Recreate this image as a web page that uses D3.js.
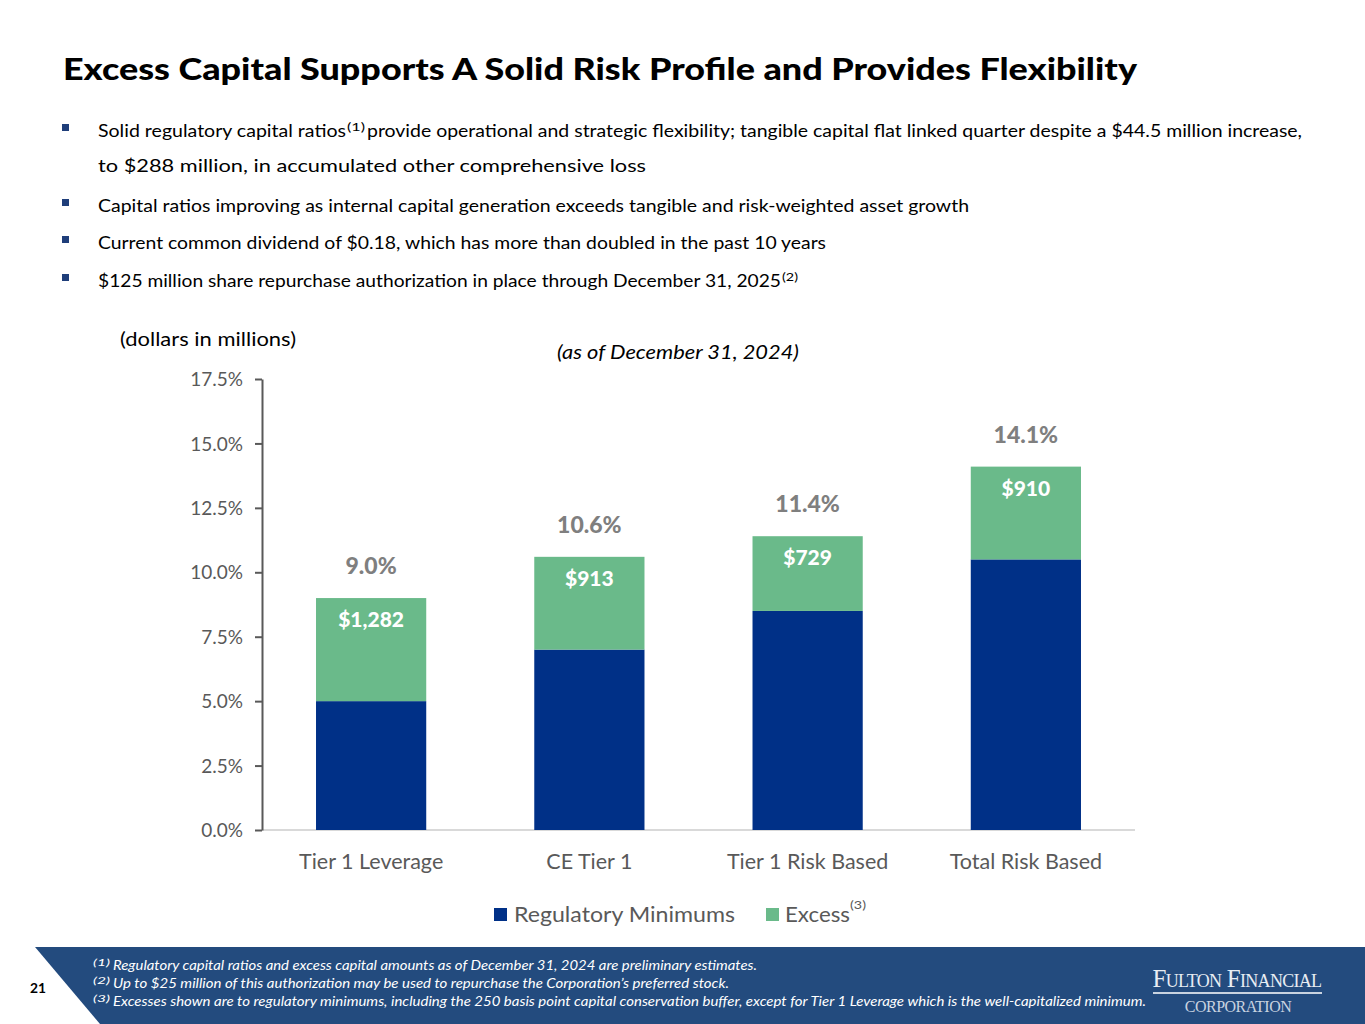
<!DOCTYPE html>
<html><head><meta charset="utf-8">
<script src="https://cdn.jsdelivr.net/npm/d3@7"></script>
<style>html,body{margin:0;padding:0;background:#fff;}svg{display:block;}</style>
</head><body>
<script>
const categories = ["Tier 1 Leverage", "CE Tier 1", "Tier 1 Risk Based", "Total Risk Based"];
const regulatoryMinimums = [5.0, 7.0, 8.5, 10.5];
const totalRatios = [9.0, 10.6, 11.4, 14.1];
const excessDollars = ["$1,282", "$913", "$729", "$910"];
const yTicks = [0, 2.5, 5, 7.5, 10, 12.5, 15, 17.5];
const seriesNames = ["Regulatory Minimums", "Excess"];

const W = 1365, H = 1024;
const NAVY = "#003087", GREEN = "#6aba8a", GRAY = "#595959", LGRAY = "#7f7f7f";
const FONT = "Lato, 'Open Sans', sans-serif";

const svg = d3.select("body").append("svg").attr("width", W).attr("height", H)
  .style("font-family", FONT);

// Title
svg.append("text").attr("x", 63).attr("y", 80).attr("font-size", 31).attr("font-weight", 900)
  .attr("fill", "#000").attr("textLength", 1074).attr("lengthAdjust", "spacingAndGlyphs")
  .text("Excess Capital Supports A Solid Risk Profile and Provides Flexibility");

function txt(x, y, s, len, opts = {}) {
  const t = svg.append("text").attr("x", x).attr("y", y).attr("font-size", opts.size || 17.5)
    .attr("fill", opts.fill || "#000").text(s);
  if (len) t.attr("textLength", len).attr("lengthAdjust", "spacingAndGlyphs");
  if (opts.italic) t.attr("font-style", "italic");
  if (opts.weight) t.attr("font-weight", opts.weight);
  if (opts.anchor) t.attr("text-anchor", opts.anchor);
  return t;
}
// Bullets
const bulletYs = [131, 206, 243, 281];
bulletYs.forEach(y => svg.append("rect").attr("x", 62).attr("y", y - 7).attr("width", 7).attr("height", 7).attr("fill", "#1f3e7a"));
txt(98, 137, "Solid regulatory capital ratios", 248);
txt(347, 131, "(1)", 18, {size: 11});
txt(367, 137, "provide operational and strategic flexibility; tangible capital flat linked quarter despite a $44.5  million increase,", 935);
txt(98, 172, "to $288  million, in accumulated other comprehensive loss", 548);
txt(98, 212, "Capital ratios improving as internal capital generation exceeds tangible and risk-weighted asset growth", 871);
txt(98, 249, "Current common dividend of $0.18,  which has more than doubled in the past 10 years", 728);
txt(98, 287, "$125  million share repurchase authorization in place through December 31, 2025", 683);
txt(782, 281, "(2)", 16, {size: 11});

txt(120, 346, "(dollars in millions)", 176, {size: 18.5});
txt(557, 359, "(as of December 31, 2024)", 242, {size: 18.5, italic: true});

// Chart
const x = d3.scaleBand().domain(categories).range([262, 1135]).paddingInner(0.495).paddingOuter(0.2475);
const y = d3.scaleLinear().domain([0, 17.5]).range([830, 379]);

const data = categories.map((c, i) => ({c, min: regulatoryMinimums[i], total: totalRatios[i], ex: excessDollars[i]}));

svg.append("line").attr("x1", 262).attr("x2", 1135).attr("y1", y(0)).attr("y2", y(0))
  .attr("stroke", "#d9d9d9").attr("stroke-width", 2);

const g = svg.append("g");
g.selectAll(".min").data(data).join("rect")
  .attr("x", d => x(d.c)).attr("width", x.bandwidth())
  .attr("y", d => y(d.min)).attr("height", d => y(0) - y(d.min)).attr("fill", NAVY);
g.selectAll(".ex").data(data).join("rect")
  .attr("x", d => x(d.c)).attr("width", x.bandwidth())
  .attr("y", d => y(d.total)).attr("height", d => y(d.min) - y(d.total)).attr("fill", GREEN);

const yAxis = d3.axisLeft(y).tickValues(yTicks).tickFormat(d => d3.format(".1f")(d) + "%").tickSize(7).tickSizeOuter(0);
const ya = svg.append("g").attr("transform", "translate(262,0)").call(yAxis);
ya.select(".domain").attr("stroke", GRAY).attr("stroke-width", 2);
ya.selectAll(".tick line").attr("stroke", GRAY).attr("stroke-width", 2);
ya.selectAll(".tick text").attr("fill", GRAY).attr("font-size", 19).attr("font-family", FONT).attr("x", -19).attr("dy", "0.35em");

const xAxis = d3.axisBottom(x).tickSize(0);
const xa = svg.append("g").attr("transform", `translate(0,${y(0)})`).call(xAxis);
xa.select(".domain").remove();
xa.selectAll(".tick text").attr("fill", GRAY).attr("font-size", 21.5).attr("font-family", FONT).attr("dy", "0").attr("y", 39);

g.selectAll(".tot").data(data).join("text")
  .attr("x", d => x(d.c) + x.bandwidth() / 2).attr("y", d => y(d.total) - 24)
  .attr("text-anchor", "middle").attr("font-size", 23).attr("font-weight", 900).attr("fill", LGRAY)
  .text(d => d3.format(".1f")(d.total) + "%");
g.selectAll(".exl").data(data).join("text")
  .attr("x", d => x(d.c) + x.bandwidth() / 2).attr("y", d => y(d.total) + 29)
  .attr("text-anchor", "middle").attr("font-size", 21).attr("font-weight", 900).attr("fill", "#fff")
  .text(d => d.ex);

// legend
svg.append("rect").attr("x", 494).attr("y", 908).attr("width", 13).attr("height", 13).attr("fill", NAVY);
txt(514, 922, seriesNames[0], 221, {size: 21.5, fill: GRAY});
svg.append("rect").attr("x", 766).attr("y", 908).attr("width", 13).attr("height", 13).attr("fill", GREEN);
txt(785, 922, seriesNames[1], 65, {size: 21.5, fill: GRAY});
txt(850, 909, "(3)", 16, {size: 12, fill: GRAY});

// footer
svg.append("polygon").attr("points", "35,947 1365,947 1365,1024 100,1024").attr("fill", "#234b7e");
txt(30, 993, "21", 16, {size: 14, weight: 700});
const fn = [
  ["(1)", "Regulatory capital ratios and excess capital amounts as of December 31, 2024 are preliminary estimates.", 644, 970],
  ["(2)", "Up to $25 million of this authorization may be used to repurchase the Corporation’s preferred stock.", 616, 988],
  ["(3)", "Excesses shown are to regulatory minimums, including the 250 basis point capital conservation buffer, except for Tier 1 Leverage which is the well-capitalized minimum.", 1033, 1006]
];
fn.forEach(([s, t, len, yy]) => {
  txt(93, yy - 4, s, 17, {size: 10, fill: "#fff", italic: true});
  txt(113, yy, t, len, {size: 12.5, fill: "#fff", italic: true});
});
// logo
svg.append("text").attr("x", 1237).attr("y", 987).attr("text-anchor", "middle")
  .attr("font-family", "'Liberation Serif', serif").attr("font-size", 25).attr("fill", "#e8edf3")
  .style("font-variant", "small-caps").style("letter-spacing", "-0.7px")
  .text("Fulton Financial");
svg.append("rect").attr("x", 1153).attr("y", 992).attr("width", 169).attr("height", 2).attr("fill", "#c9d3e0");
svg.append("text").attr("x", 1238).attr("y", 1012).attr("text-anchor", "middle")
  .attr("font-family", "'Liberation Serif', serif").attr("font-size", 16).attr("fill", "#c9d3e0")
  .style("letter-spacing", "-0.5px")
  .text("CORPORATION");
</script>
</body></html>
